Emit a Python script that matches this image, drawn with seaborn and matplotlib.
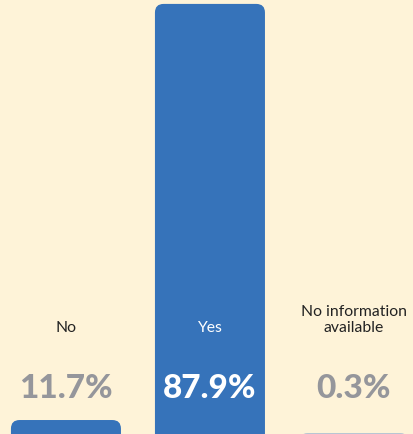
import numpy as np
import matplotlib.pyplot as plt
import seaborn as sns
from matplotlib.patches import FancyBboxPatch
from matplotlib.transforms import blended_transform_factory

categories = ["No", "Yes", "No information\navailable"]
shares = [11.7, 87.9, 0.3]
share_labels = ["11.7%", "87.9%", "0.3%"]

bg = "#FEF3D8"
blue = "#3673BA"

sns.set_theme(style="white")
plt.rcParams['font.family'] = ['Lato', 'DejaVu Sans']

fig = plt.figure(figsize=(4.14, 4.35), dpi=100, facecolor=bg)
ax = fig.add_axes([0, 0, 1, 1], facecolor=bg)

y_lo, y_hi = 9.14, 88.8
# tiny shares still get a sliver at the bottom edge
shown = np.maximum(shares, y_lo + 0.15)
sns.barplot(x=list(range(len(categories))), y=shown, color=blue, width=0.764,
            saturation=1, ax=ax)

# swap the square bars for rounded ones
rounded = []
for i, p in enumerate(list(ax.patches)):
    x0, w, h = p.get_x(), p.get_width(), p.get_height()
    p.remove()
    col = blue if shares[i] > 1 else "#A9BDD3"
    rounded.append(FancyBboxPatch((x0, 0), w, h,
                                  boxstyle="round,pad=0,rounding_size=0.06",
                                  mutation_aspect=(y_hi - y_lo) / 435 * 144,
                                  facecolor=col, edgecolor="none"))
for r in rounded:
    ax.add_patch(r)

ax.set_xlim(-0.458, 2.417)
ax.set_ylim(y_lo, y_hi)
ax.set_axis_off()

tr = blended_transform_factory(ax.transData, ax.transAxes)
for i, (cat, lab) in enumerate(zip(categories, share_labels)):
    inside = shares[i] > 50
    ax.text(i, 0.236, cat, transform=tr, ha="center", va="baseline",
            fontsize=11.3, color="white" if inside else "#222222", linespacing=1.2)
    ax.text(i, 0.108, lab, transform=tr, ha="center", va="center",
            fontsize=24, fontweight="black", color="white" if inside else "#95969B")

fig.savefig("out.png", dpi=100, facecolor=bg)
